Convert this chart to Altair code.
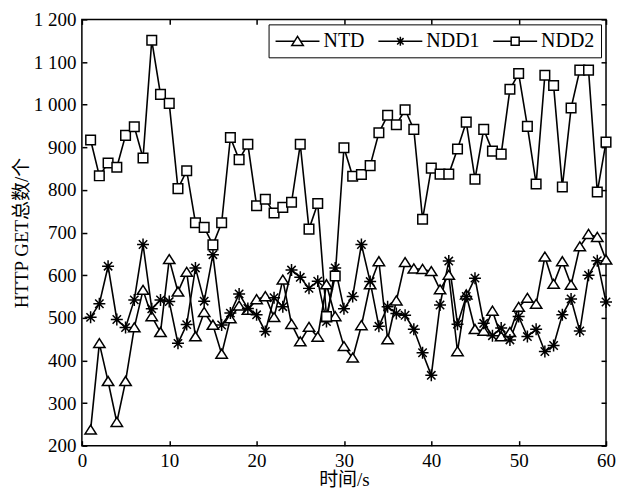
import altair as alt
import pandas as pd

# ---------------- data ----------------
t = list(range(1, 61))

ntd = [237, 440, 351, 255, 351, 477, 565, 503, 466, 637,
       561, 607, 456, 513, 483, 415, 498, 528, 518, 543,
       550, 501, 589, 485, 444, 478, 455, 578, 503, 433,
       406, 482, 578, 632, 449, 540, 630, 615, 614, 609,
       566, 600, 421, 554, 473, 469, 516, 456, 466, 525,
       546, 532, 643, 579, 632, 577, 667, 696, 689, 636]

ndd1 = [501, 533, 621, 496, 477, 542, 672, 521, 542, 538,
        440, 484, 617, 539, 648, 483, 511, 556, 522, 507,
        468, 547, 526, 612, 595, 569, 586, 491, 617, 521,
        550, 672, 585, 480, 526, 510, 506, 473, 418, 365,
        530, 633, 485, 550, 593, 487, 458, 476, 448, 503,
        456, 473, 421, 435, 507, 544, 469, 600, 634, 537]

ndd2 = [917, 833, 863, 853, 928, 948, 875, 1151, 1024, 1003,
        803, 845, 723, 712, 671, 723, 923, 871, 907, 763,
        778, 746, 759, 771, 907, 708, 768, 503, 598, 899,
        832, 836, 857, 934, 975, 953, 988, 942, 731, 851,
        837, 837, 896, 959, 825, 942, 891, 884, 1036, 1073,
        949, 814, 1069, 1045, 807, 992, 1081, 1081, 795, 912]

names = ["NTD", "NDD1", "NDD2"]
x_ticks = [0, 10, 20, 30, 40, 50, 60]
y_ticks = [200, 300, 400, 500, 600, 700, 800, 900, 1000, 1100, 1200]

df = pd.DataFrame({
    "t": t * 3,
    "v": ntd + ndd1 + ndd2,
    "s": [names[0]] * 60 + [names[1]] * 60 + [names[2]] * 60,
})

# ---------------- styling ----------------
W, H = 525, 427
FONT = "Liberation Serif"
CJK = "Liberation Serif, Noto Sans CJK SC"

xs = alt.Scale(domain=[0, 60], nice=False)
ys = alt.Scale(domain=[200, 1200], nice=False)

# marker paths for the plot
chart_paths = [
    "M-0.95,0.7L0,-0.8L0.95,0.7Z",
    "M-1,0H1M0,-1V1M-0.7,-0.7L0.7,0.7M-0.7,0.7L0.7,-0.7",
    "M-0.8,-0.8H0.8V0.8H-0.8Z",
]
# legend symbols: line - marker - line
legend_paths = [
    "M-2.2,0H-0.32M0.32,0H2.2M-0.58,0.42L0,-0.5L0.58,0.42Z",
    "M-2.2,0H2.2M0,-0.45V0.45M-0.32,-0.32L0.32,0.32M-0.32,0.32L0.32,-0.32",
    "M-2.2,0H-0.4M0.4,0H2.2M-0.4,-0.4H0.4V0.4H-0.4Z",
]

xax_main = alt.Axis(orient="bottom", values=x_ticks, ticks=False, domain=False, grid=False,
                    labelFont=FONT, labelFontSize=19, labelColor="black", labelPadding=6,
                    labelFlush=False,
                    title="时间/s", titleFont=CJK, titleFontSize=19, titleFontWeight="normal",
                    titleColor="black", titlePadding=0)
yax_main = alt.Axis(orient="left", values=y_ticks, ticks=False, domain=False, grid=False,
                    labelFont=FONT, labelFontSize=19, labelColor="black", labelPadding=6,
                    labelExpr="datum.value >= 1000 ? replace(format(datum.value, ','), ',', ' ') : datum.label",
                    title="HTTP GET总数/个", titleFont=CJK, titleFontSize=19, titleFontWeight="normal",
                    titleColor="black", titlePadding=2)


def tick_axis(orient, offset, vals):
    return alt.Axis(orient=orient, offset=offset, values=vals, labels=False, domain=False,
                    grid=False, ticks=True, tickSize=5, tickWidth=1.5, tickColor="black",
                    title=None)


base = alt.Chart(df)

lines = base.mark_line(color="black", strokeWidth=1.6).encode(
    x=alt.X("t:Q", scale=xs, axis=xax_main),
    y=alt.Y("v:Q", scale=ys, axis=yax_main),
    detail="s:N",
)

points = base.mark_point(filled=True, fill="white", stroke="black", strokeWidth=1.5,
                         size=144, opacity=1).encode(
    x=alt.X("t:Q", scale=xs, axis=None),
    y=alt.Y("v:Q", scale=ys, axis=None),
    shape=alt.Shape("s:N", scale=alt.Scale(domain=names, range=chart_paths), legend=None),
)

legend_layer = base.mark_point(opacity=0, size=400).encode(
    x=alt.X("t:Q", scale=xs, axis=None),
    y=alt.Y("v:Q", scale=ys, axis=None),
    shape=alt.Shape("s:N", scale=alt.Scale(domain=names, range=legend_paths),
                    legend=alt.Legend(title=None, orient="top-right", offset=5,
                                      direction="horizontal",
                                      strokeColor="black", fillColor="white", padding=6,
                                      symbolSize=400, symbolOffset=12, labelOffset=15,
                                      columnPadding=10,
                                      symbolOpacity=1, symbolFillColor="white",
                                      symbolStrokeColor="black", symbolStrokeWidth=1.5,
                                      labelFont=FONT, labelFontSize=20, labelColor="black")),
)

# inward ticks on bottom and left
ticks_a = base.mark_point(opacity=0).encode(
    x=alt.X("t:Q", scale=xs, axis=tick_axis("top", -H, x_ticks)),
    y=alt.Y("v:Q", scale=ys, axis=tick_axis("right", -W, y_ticks)),
)
# inward ticks on top and right
ticks_b = base.mark_point(opacity=0).encode(
    x=alt.X("t:Q", scale=xs, axis=tick_axis("bottom", -H, x_ticks)),
    y=alt.Y("v:Q", scale=ys, axis=tick_axis("left", -W, y_ticks)),
)

chart = alt.layer(lines, points, legend_layer, ticks_a, ticks_b).resolve_scale(
    shape="independent"
).resolve_axis(
    x="independent", y="independent"
).properties(
    width=W, height=H,
    autosize=alt.AutoSizeParams(type="none"),
    padding={"left": 74, "top": 11, "right": 10, "bottom": 48},
    background="white",
).configure_view(stroke="black", strokeWidth=1.5)

chart.save("out.html", embed_options={"renderer": "svg", "actions": False})
